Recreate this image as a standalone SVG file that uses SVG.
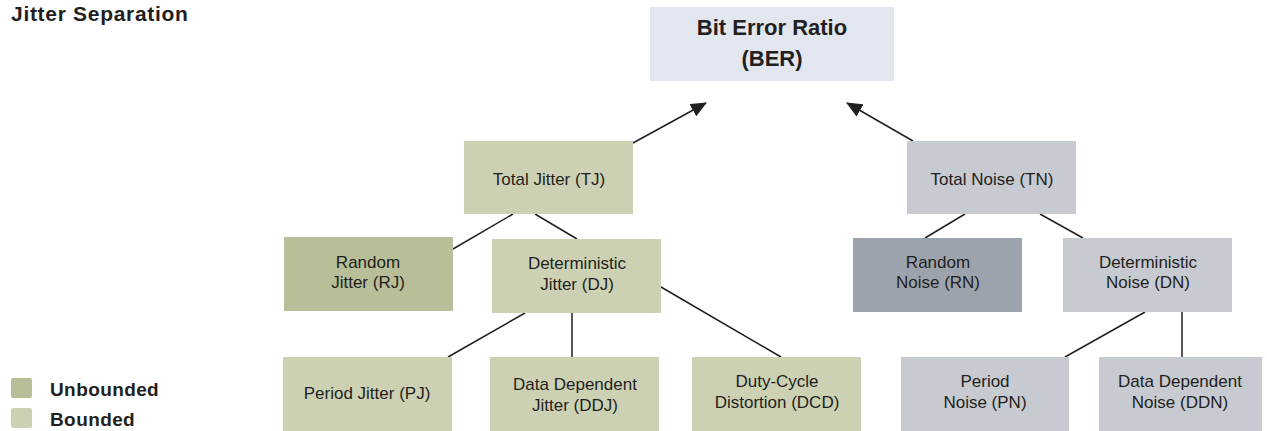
<svg xmlns="http://www.w3.org/2000/svg" width="1267" height="431" viewBox="0 0 1267 431">
<style>
text{font-family:"Liberation Sans",Arial,Helvetica,sans-serif;fill:#231f20}
.n{font-size:17px;text-anchor:middle}
.h{font-size:22px;font-weight:bold;text-anchor:middle}
.lg{font-size:19px;font-weight:bold;letter-spacing:0.4px}
.b{fill:#cdd1b4}
.u{fill:#b8be97}
.g{fill:#c7cad0}
.gd{fill:#9ca3ad}
.ber{fill:#e1e6ef}
.c line{stroke:#231f20;stroke-width:1.5}
</style>
<defs>
<marker id="ah" markerWidth="16" markerHeight="14" refX="15" refY="7" orient="auto" markerUnits="userSpaceOnUse">
<path d="M0,0 L16,7 L0,14 Z" fill="#231f20"/>
</marker>
</defs>
<text x="11" y="21" style="font-size:21px;font-weight:bold;letter-spacing:0.7px">Jitter Separation</text>
<g class="c">
<line x1="633" y1="143" x2="706" y2="103" marker-end="url(#ah)"/>
<line x1="913" y1="141" x2="847" y2="103" marker-end="url(#ah)"/>
<line x1="513" y1="214" x2="453" y2="249"/>
<line x1="535" y1="214" x2="577" y2="239"/>
<line x1="525" y1="313" x2="448" y2="357"/>
<line x1="572" y1="313" x2="572" y2="357"/>
<line x1="661" y1="287" x2="781" y2="357"/>
<line x1="965" y1="214" x2="925" y2="238"/>
<line x1="1040" y1="214" x2="1083" y2="238"/>
<line x1="1145" y1="312" x2="1065" y2="357"/>
<line x1="1182" y1="312" x2="1182" y2="357"/>
</g>
<g id="ber"><rect class="ber" x="650" y="7" width="244" height="74"/><text class="h" x="772" y="35">Bit Error Ratio</text><text class="h" x="772" y="66">(BER)</text></g>
<g id="tj"><rect class="b" x="464" y="141" width="169" height="73"/><text class="n" x="549" y="185">Total Jitter (TJ)</text></g>
<g id="tn"><rect class="g" x="907" y="141" width="169" height="73"/><text class="n" x="992" y="185">Total Noise (TN)</text></g>
<g id="rj"><rect class="u" x="284" y="237" width="169" height="74"/><text class="n" x="368" y="268">Random</text><text class="n" x="368" y="288">Jitter (RJ)</text></g>
<g id="dj"><rect class="b" x="492" y="239" width="169" height="74"/><text class="n" x="577" y="269">Deterministic</text><text class="n" x="577" y="290">Jitter (DJ)</text></g>
<g id="rn"><rect class="gd" x="853" y="238" width="169" height="74"/><text class="n" x="938" y="268">Random</text><text class="n" x="938" y="288">Noise (RN)</text></g>
<g id="dn"><rect class="g" x="1063" y="238" width="169" height="74"/><text class="n" x="1148" y="268">Deterministic</text><text class="n" x="1148" y="288">Noise (DN)</text></g>
<g id="pj"><rect class="b" x="283" y="357" width="169" height="74"/><text class="n" x="367" y="399">Period Jitter (PJ)</text></g>
<g id="ddj"><rect class="b" x="490" y="357" width="169" height="74"/><text class="n" x="575" y="390">Data Dependent</text><text class="n" x="575" y="411">Jitter (DDJ)</text></g>
<g id="dcd"><rect class="b" x="692" y="357" width="169" height="74"/><text class="n" x="777" y="387">Duty-Cycle</text><text class="n" x="777" y="408">Distortion (DCD)</text></g>
<g id="pn"><rect class="g" x="901" y="357" width="168" height="74"/><text class="n" x="985" y="387">Period</text><text class="n" x="985" y="408">Noise (PN)</text></g>
<g id="ddn"><rect class="g" x="1099" y="357" width="163" height="74"/><text class="n" x="1180" y="387">Data Dependent</text><text class="n" x="1180" y="408">Noise (DDN)</text></g>
<g id="legend">
<rect class="u" x="11" y="378" width="21" height="20" rx="2"/>
<text class="lg" x="50" y="396">Unbounded</text>
<rect class="b" x="11" y="408" width="21" height="20" rx="2"/>
<text class="lg" x="50" y="426">Bounded</text>
</g>
</svg>
